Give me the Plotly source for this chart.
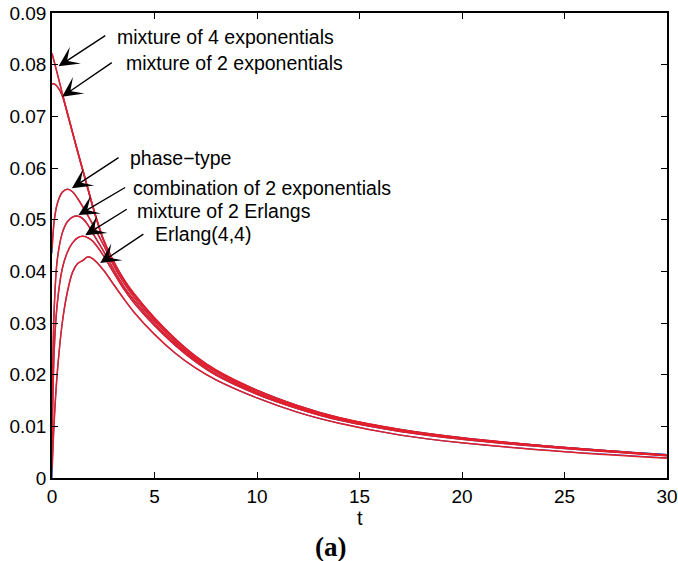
import plotly.graph_objects as go

t = [0, 0.1, 0.25, 0.5, 0.75, 1, 1.25, 1.5, 1.75, 2, 2.5, 3, 3.5, 4, 5, 6, 7, 8, 10, 12, 14, 17, 20, 25, 30]

# fitted densities (red)
mix4_fit = [0.0822, 0.0807, 0.0784, 0.0745, 0.0707, 0.0670, 0.0633, 0.0597, 0.0561, 0.0525, 0.0463, 0.0420, 0.0385, 0.0357, 0.0310, 0.0270, 0.0236, 0.0209, 0.0170, 0.0140, 0.0117, 0.0094, 0.0078, 0.0059, 0.0044]
mix2_fit = [0.0763, 0.0763, 0.0758, 0.0740, 0.0705, 0.0668, 0.0631, 0.0595, 0.0559, 0.0523, 0.0461, 0.0418, 0.0383, 0.0355, 0.0308, 0.0268, 0.0234, 0.0207, 0.0169, 0.0139, 0.0116, 0.0093, 0.0077, 0.0059, 0.0044]
ph_fit = [0.0445, 0.0495, 0.0530, 0.0553, 0.0559, 0.0554, 0.0541, 0.0525, 0.0508, 0.0490, 0.0452, 0.0412, 0.0378, 0.0350, 0.0304, 0.0264, 0.0231, 0.0205, 0.0166, 0.0137, 0.0115, 0.0093, 0.0077, 0.0058, 0.0044]
comb_fit = [0.0120, 0.0320, 0.0420, 0.0474, 0.0496, 0.0505, 0.0507, 0.0502, 0.0490, 0.0473, 0.0440, 0.0404, 0.0371, 0.0344, 0.0299, 0.0260, 0.0228, 0.0201, 0.0164, 0.0135, 0.0113, 0.0091, 0.0076, 0.0058, 0.0043]
mixE_fit = [0.0060, 0.0240, 0.0335, 0.0405, 0.0437, 0.0455, 0.0465, 0.0468, 0.0465, 0.0458, 0.0431, 0.0398, 0.0366, 0.0339, 0.0295, 0.0257, 0.0225, 0.0199, 0.0162, 0.0134, 0.0112, 0.0090, 0.0075, 0.0057, 0.0043]
erl_fit = [0.0020, 0.0105, 0.0200, 0.0300, 0.0360, 0.0398, 0.0415, 0.0421, 0.0428, 0.0424, 0.0403, 0.0375, 0.0347, 0.0321, 0.0278, 0.0242, 0.0213, 0.0190, 0.0155, 0.0127, 0.0106, 0.0083, 0.0068, 0.0051, 0.0038]

# target densities (blue)
mix4_true = [0.0822, 0.0807, 0.0784, 0.0745, 0.0707, 0.0670, 0.0633, 0.0597, 0.0561, 0.0525, 0.0463, 0.0420, 0.0385, 0.0357, 0.0310, 0.0270, 0.0236, 0.0209, 0.0170, 0.0140, 0.0117, 0.0094, 0.0078, 0.0059, 0.0045]
mix2_true = [0.0763, 0.0763, 0.0758, 0.0740, 0.0705, 0.0668, 0.0631, 0.0595, 0.0559, 0.0523, 0.0461, 0.0418, 0.0383, 0.0355, 0.0308, 0.0268, 0.0234, 0.0207, 0.0169, 0.0139, 0.0116, 0.0093, 0.0077, 0.0059, 0.0045]
ph_true = [0.0435, 0.0495, 0.0530, 0.0553, 0.0559, 0.0554, 0.0541, 0.0525, 0.0508, 0.0490, 0.0452, 0.0412, 0.0378, 0.0350, 0.0304, 0.0264, 0.0231, 0.0205, 0.0166, 0.0137, 0.0115, 0.0093, 0.0077, 0.0058, 0.0045]
comb_true = [0.0100, 0.0320, 0.0420, 0.0474, 0.0496, 0.0505, 0.0507, 0.0502, 0.0490, 0.0473, 0.0440, 0.0404, 0.0371, 0.0344, 0.0299, 0.0260, 0.0228, 0.0201, 0.0164, 0.0135, 0.0113, 0.0091, 0.0076, 0.0058, 0.0044]
mixE_true = [0.0035, 0.0240, 0.0335, 0.0405, 0.0437, 0.0455, 0.0465, 0.0468, 0.0465, 0.0458, 0.0431, 0.0398, 0.0366, 0.0339, 0.0295, 0.0257, 0.0225, 0.0199, 0.0162, 0.0134, 0.0112, 0.0090, 0.0075, 0.0057, 0.0044]
erl_true = [0.0000, 0.0105, 0.0200, 0.0300, 0.0360, 0.0398, 0.0415, 0.0421, 0.0428, 0.0424, 0.0403, 0.0375, 0.0347, 0.0321, 0.0278, 0.0242, 0.0213, 0.0190, 0.0155, 0.0127, 0.0106, 0.0083, 0.0068, 0.0051, 0.0039]

labels = ["mixture of 4 exponentials", "mixture of 2 exponentials", "phase\u2212type",
          "combination of 2 exponentials", "mixture of 2 Erlangs", "Erlang(4,4)"]
# arrow tip (t, f), arrow tail (t, f), text left anchor (t, f)
tips = [(0.32, 0.0797), (0.49, 0.0738), (0.97, 0.0561), (1.29, 0.0509), (1.62, 0.0470), (2.35, 0.0416)]
tails = [(2.67, 0.0858), (2.99, 0.0806), (3.32, 0.0622), (3.64, 0.0564), (3.72, 0.0522), (4.53, 0.0474)]
text_pos = [(3.07, 0.0854), (3.51, 0.0804), (3.71, 0.0620), (3.85, 0.0561), (4.05, 0.0517), (4.92, 0.0472)]

BLUE = "#3550a8"
RED = "#e41f2b"
FONT = "Liberation Sans, Arial, Helvetica, sans-serif"

fig = go.Figure()
true_sets = [mix4_true, mix2_true, ph_true, comb_true, mixE_true, erl_true]
fit_sets = [mix4_fit, mix2_fit, ph_fit, comb_fit, mixE_fit, erl_fit]
for ys in true_sets:
    fig.add_trace(go.Scatter(x=t, y=ys, mode="lines",
                             line=dict(color=BLUE, width=1.3, shape="spline", smoothing=0.8),
                             showlegend=False, hoverinfo="skip"))
for ys in fit_sets:
    fig.add_trace(go.Scatter(x=t, y=ys, mode="lines",
                             line=dict(color=RED, width=1.5, shape="spline", smoothing=0.8),
                             showlegend=False, hoverinfo="skip"))

annotations = []
for lab, tip, tail, tp in zip(labels, tips, tails, text_pos):
    annotations.append(dict(x=tip[0], y=tip[1], ax=tail[0], ay=tail[1],
                            xref="x", yref="y", axref="x", ayref="y",
                            text="", showarrow=True, arrowhead=3, arrowsize=2.4,
                            arrowwidth=1.4, arrowcolor="black", standoff=0))
    annotations.append(dict(x=tp[0], y=tp[1], xref="x", yref="y", text=lab,
                            showarrow=False, xanchor="left", yanchor="middle",
                            font=dict(family=FONT, size=19.5, color="black")))

annotations.append(dict(x=15, y=0, xref="x", yref="y", text="t", showarrow=False,
                        xanchor="center", yanchor="middle", yshift=-40,
                        font=dict(family=FONT, size=20, color="black")))
annotations.append(dict(x=13.6, y=0, xref="x", yref="y", text="<b>(a)</b>", showarrow=False,
                        xanchor="center", yanchor="middle", yshift=-69,
                        font=dict(family="Liberation Serif, Times New Roman, serif", size=27, color="black")))

axis_common = dict(showline=True, linecolor="black", linewidth=1.5, mirror="ticks",
                   ticks="inside", ticklen=6, tickwidth=1.3, tickcolor="black",
                   showgrid=False, zeroline=False, automargin=False,
                   ticklabeloverflow="allow",
                   tickfont=dict(family=FONT, size=19, color="black"))

fig.update_layout(
    width=678, height=561,
    margin=dict(l=52, r=11, t=13, b=83),
    paper_bgcolor="white", plot_bgcolor="white",
    xaxis=dict(range=[0, 30], tickvals=[0, 5, 10, 15, 20, 25, 30], **axis_common),
    yaxis=dict(range=[0, 0.09], tickvals=[0, 0.01, 0.02, 0.03, 0.04, 0.05, 0.06, 0.07, 0.08, 0.09],
               ticktext=["0", "0.01", "0.02", "0.03", "0.04", "0.05", "0.06", "0.07", "0.08", "0.09"],
               **axis_common),
    annotations=annotations,
    showlegend=False,
)

fig.write_html("out.html")
